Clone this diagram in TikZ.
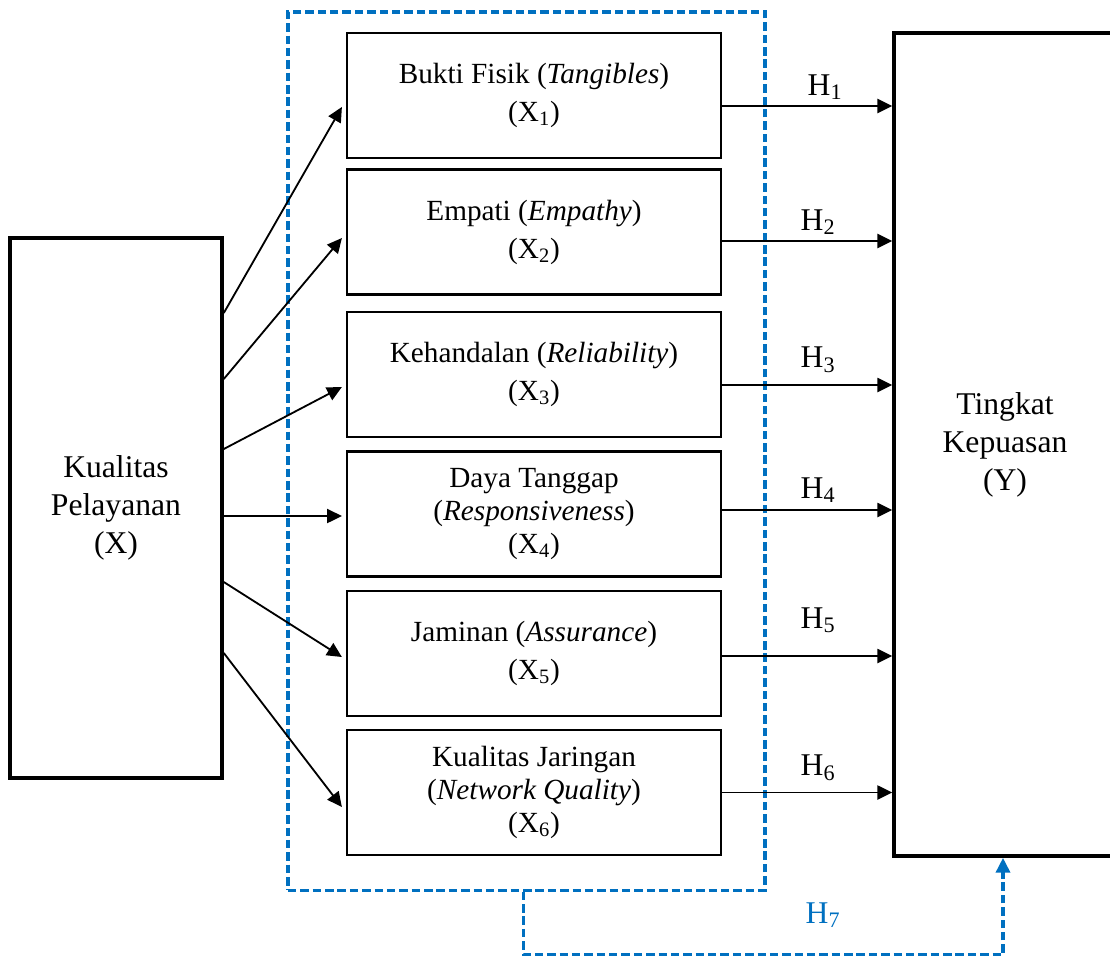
\documentclass[tikz,border=0pt]{standalone}
\usepackage{fontspec}
\setmainfont{Liberation Serif}
\usetikzlibrary{arrows.meta,calc}
\definecolor{hblue}{RGB}{0,112,192}

\begin{document}
\begin{tikzpicture}[x=0.025cm,y=-0.025cm,>={Triangle[length=10.5pt,width=10pt]},
 every node/.style={font=\fontsize{20.8}{27}\selectfont,align=center},
 box/.style={draw,line width=1.5pt,minimum width=9.35cm,minimum height=3.125cm,inner sep=0pt},
 tri/.style={font=\fontsize{20.8}{23.5}\selectfont},
 bigbox/.style={draw,line width=2.5pt,inner sep=0pt,font=\fontsize{22.5}{27}\selectfont},
 grpbox/.style={draw=hblue,line width=2.3pt,dash pattern=on 6pt off 2.8pt,
  minimum width=11.925cm,minimum height=21.95cm,inner sep=0pt},
 arr/.style={->,line width=1.3pt},
 hyp/.style={font=\fontsize{22.5}{27}\selectfont,inner sep=0pt}]
\useasboundingbox (0,0) rectangle (1110,956);
\node[grpbox](grp) at (526.5,451){};
\node[bigbox,minimum width=5.3cm,minimum height=13.5cm](kp) at (116,508){Kualitas\\Pelayanan\\(X)};
\node[bigbox,minimum width=5.55cm,minimum height=20.575cm](tk) at (1005,444.5){Tingkat\\Kepuasan\\(Y)};
\node[box](x1) at (534,95.5){Bukti Fisik (\textit{Tangibles})\\(X\textsubscript{1})};
\node[box](x2) at (534,232){Empati (\textit{Empathy})\\(X\textsubscript{2})};
\node[box](x3) at (534,374.5){Kehandalan (\textit{Reliability})\\(X\textsubscript{3})};
\node[box,tri](x4) at (534,514){Daya Tanggap\\(\textit{Responsiveness})\\(X\textsubscript{4})};
\node[box](x5) at (534,653.5){Jaminan (\textit{Assurance})\\(X\textsubscript{5})};
\node[box,tri](x6) at (534,792.5){Kualitas Jaringan\\(\textit{Network Quality})\\(X\textsubscript{6})};
% dimensions to the service quality aspects
\draw[arr]($(kp.east)+(0,-195)$)--($(x1.west)+(-4,11.5)$);
\draw[arr]($(kp.east)+(0,-129)$)--($(x2.west)+(-4,6)$);
\draw[arr]($(kp.east)+(0,-59)$)--($(x3.west)+(-4,12.5)$);
\draw[arr]($(kp.east)+(0,8)$)--($(x4.west)+(-4,2)$);
\draw[arr]($(kp.east)+(0,74)$)--($(x5.west)+(-4,3.5)$);
\draw[arr]($(kp.east)+(0,145)$)--($(x6.west)+(-4,14.5)$);
% hypotheses
\draw[arr]($(x1.east)+(0,10.5)$) coordinate (a1)--(a1 -| tk.west);
\draw[arr]($(x2.east)+(0,9)$) coordinate (a2)--(a2 -| tk.west);
\draw[arr]($(x3.east)+(0,10.5)$) coordinate (a3)--(a3 -| tk.west);
\draw[arr]($(x4.east)+(0,-4)$) coordinate (a4)--(a4 -| tk.west);
\draw[arr]($(x5.east)+(0,2.5)$) coordinate (a5)--(a5 -| tk.west);
\draw[arr]($(x6.east)+(0,0)$) coordinate (a6)--(a6 -| tk.west);
\node[hyp](h1) at (825,87){H\textsubscript{1}};
\node[hyp](h2) at (818,222){H\textsubscript{2}};
\node[hyp](h3) at (818,360){H\textsubscript{3}};
\node[hyp](h4) at (818,490){H\textsubscript{4}};
\node[hyp](h5) at (818,620){H\textsubscript{5}};
\node[hyp](h6) at (818,768){H\textsubscript{6}};
\draw[hblue,line width=2.3pt,dash pattern=on 6pt off 2.8pt,->]
 ($(grp.south)+(-3,0)$)--++(0,63)-|($(tk.south)+(-2,0)$);
\node[hyp,text=hblue](h7) at (823,915){H\textsubscript{7}};
\end{tikzpicture}
\end{document}
